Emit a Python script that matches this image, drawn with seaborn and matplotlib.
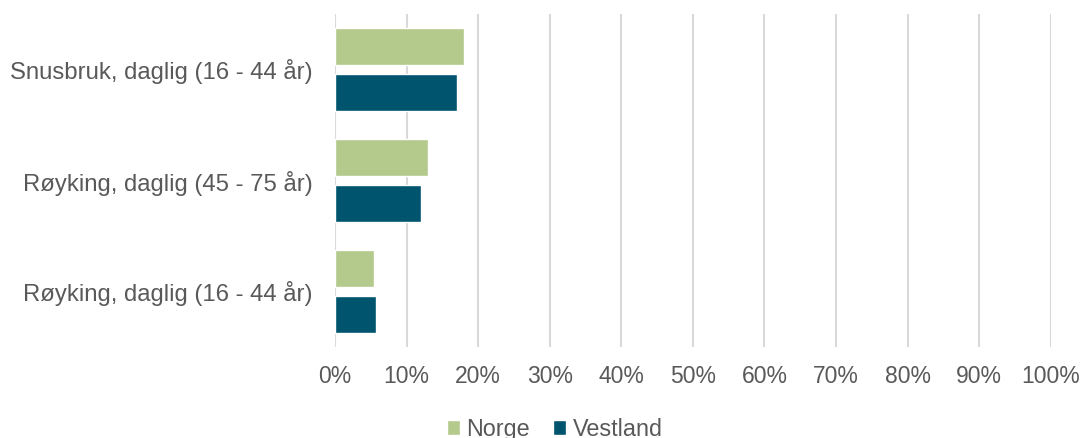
import matplotlib
matplotlib.use("Agg")
import matplotlib.pyplot as plt
import seaborn as sns
import pandas as pd
from matplotlib.ticker import FuncFormatter, MultipleLocator
from matplotlib.patches import Patch

categories = [
    "Snusbruk, daglig (16 - 44 år)",
    "Røyking, daglig (45 - 75 år)",
    "Røyking, daglig (16 - 44 år)",
]
norge = [18.0, 13.0, 5.5]
vestland = [17.0, 12.0, 5.7]
series = ["Norge", "Vestland"]
colors = ["#B4C98C", "#00546E"]

df = pd.DataFrame({
    "kategori": categories * 2,
    "verdi": norge + vestland,
    "område": [series[0]] * 3 + [series[1]] * 3,
})

sns.set_theme(style="white")
plt.rcParams["font.family"] = ["Liberation Sans", "DejaVu Sans"]

fig = plt.figure(figsize=(10.84, 4.38), dpi=100)
ax = fig.add_axes([335 / 1084, 1 - 347 / 438, (1050.7 - 335) / 1084, (347 - 14) / 438])

sns.barplot(
    data=df, y="kategori", x="verdi", hue="område",
    order=categories, hue_order=series, palette=colors,
    orient="h", width=0.836, gap=0.21, saturation=1,
    legend=False, ax=ax,
)

ax.set_xlim(0, 100)
ax.set_ylim(2.5, -0.5)
ax.xaxis.set_major_locator(MultipleLocator(10))
ax.xaxis.set_major_formatter(FuncFormatter(lambda v, _: f"{v:.0f}%"))
ax.grid(axis="x", color="#D9D9D9", linewidth=1.5)
ax.set_axisbelow(True)
for s in ax.spines.values():
    s.set_visible(False)
ax.set_xlabel("")
ax.set_ylabel("")
ax.tick_params(axis="both", length=0, labelcolor="#595959")
ax.tick_params(axis="y", pad=16, labelsize=17.2)
ax.tick_params(axis="x", pad=13, labelsize=16.5)

handles = [Patch(facecolor=c, label=s) for s, c in zip(series, colors)]
fig.legend(
    handles=handles, loc="center", bbox_to_anchor=(0.512, 0.02),
    ncol=2, frameon=False, fontsize=16.8, labelcolor="#595959",
    handlelength=0.55, handleheight=0.55, handletextpad=0.28,
    columnspacing=1.0,
)

fig.savefig("out.png", dpi=100)
